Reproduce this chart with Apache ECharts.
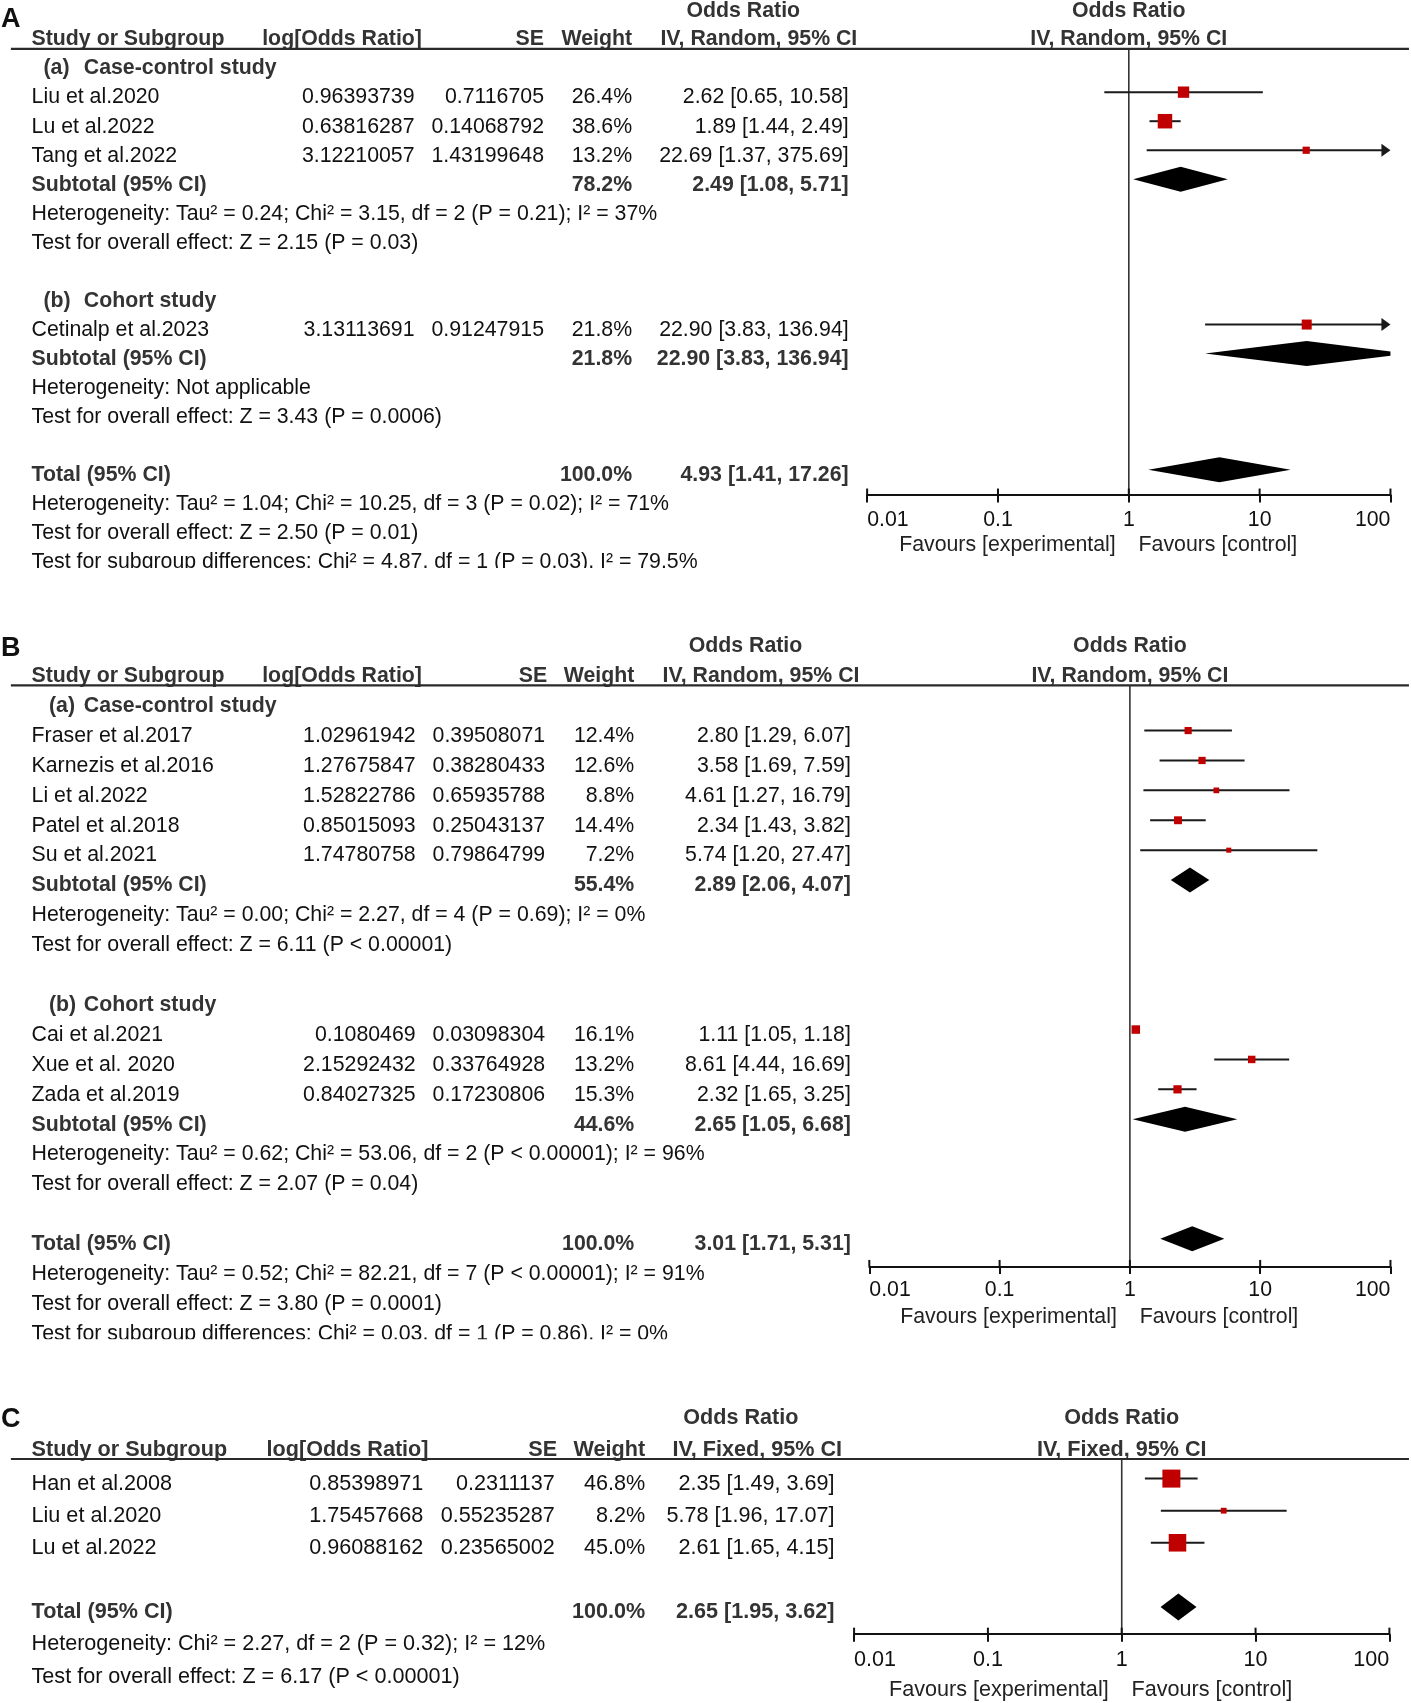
<!DOCTYPE html>
<html><head><meta charset="utf-8">
<script src="https://cdn.jsdelivr.net/npm/echarts@6/dist/echarts.min.js"></script>
<style>html,body{margin:0;padding:0;background:#fff}#c{width:1411px;height:1703px}</style>
</head><body><div id="c"></div>
<script>
// ================= DATA =================
// ---- Panel A ----
const A_names  = ['Liu et al.2020', 'Lu et al.2022', 'Tang et al.2022', 'Cetinalp et al.2023'];
const A_logOR  = [0.96393739, 0.63816287, 3.12210057, 3.13113691];
const A_se     = [0.7116705, 0.14068792, 1.43199648, 0.91247915];
const A_weight = [26.4, 38.6, 13.2, 21.8];
const A_or     = [2.62, 1.89, 22.69, 22.90];
const A_lo     = [0.65, 1.44, 1.37, 3.83];
const A_hi     = [10.58, 2.49, 375.69, 136.94];
const A_group  = [0, 0, 0, 1];
const A_groupLabels = ['(a)', '(b)'];
const A_groupTitles = ['Case-control study', 'Cohort study'];
const A_subWeight = [78.2, 21.8];
const A_subOR  = [2.49, 22.90];
const A_subLo  = [1.08, 3.83];
const A_subHi  = [5.71, 136.94];
const A_subNotes = [
  ['Heterogeneity: Tau² = 0.24; Chi² = 3.15, df = 2 (P = 0.21); I² = 37%', 'Test for overall effect: Z = 2.15 (P = 0.03)'],
  ['Heterogeneity: Not applicable', 'Test for overall effect: Z = 3.43 (P = 0.0006)']
];
const A_total = [100.0, 4.93, 1.41, 17.26];   // weight, OR, lower, upper
const A_totalNotes = [
  'Heterogeneity: Tau² = 1.04; Chi² = 10.25, df = 3 (P = 0.02); I² = 71%',
  'Test for overall effect: Z = 2.50 (P = 0.01)',
  'Test for subgroup differences: Chi² = 4.87, df = 1 (P = 0.03), I² = 79.5%'
];
const A_method = 'IV, Random, 95% CI';

// ---- Panel B ----
const B_names  = ['Fraser et al.2017', 'Karnezis et al.2016', 'Li et al.2022', 'Patel et al.2018', 'Su et al.2021',
                  'Cai et al.2021', 'Xue et al. 2020', 'Zada et al.2019'];
const B_logOR  = [1.02961942, 1.27675847, 1.52822786, 0.85015093, 1.74780758, 0.1080469, 2.15292432, 0.84027325];
const B_se     = [0.39508071, 0.38280433, 0.65935788, 0.25043137, 0.79864799, 0.03098304, 0.33764928, 0.17230806];
const B_weight = [12.4, 12.6, 8.8, 14.4, 7.2, 16.1, 13.2, 15.3];
const B_or     = [2.80, 3.58, 4.61, 2.34, 5.74, 1.11, 8.61, 2.32];
const B_lo     = [1.29, 1.69, 1.27, 1.43, 1.20, 1.05, 4.44, 1.65];
const B_hi     = [6.07, 7.59, 16.79, 3.82, 27.47, 1.18, 16.69, 3.25];
const B_group  = [0, 0, 0, 0, 0, 1, 1, 1];
const B_groupLabels = ['(a)', '(b)'];
const B_groupTitles = ['Case-control study', 'Cohort study'];
const B_subWeight = [55.4, 44.6];
const B_subOR  = [2.89, 2.65];
const B_subLo  = [2.06, 1.05];
const B_subHi  = [4.07, 6.68];
const B_subNotes = [
  ['Heterogeneity: Tau² = 0.00; Chi² = 2.27, df = 4 (P = 0.69); I² = 0%', 'Test for overall effect: Z = 6.11 (P < 0.00001)'],
  ['Heterogeneity: Tau² = 0.62; Chi² = 53.06, df = 2 (P < 0.00001); I² = 96%', 'Test for overall effect: Z = 2.07 (P = 0.04)']
];
const B_total = [100.0, 3.01, 1.71, 5.31];
const B_totalNotes = [
  'Heterogeneity: Tau² = 0.52; Chi² = 82.21, df = 7 (P < 0.00001); I² = 91%',
  'Test for overall effect: Z = 3.80 (P = 0.0001)',
  'Test for subgroup differences: Chi² = 0.03, df = 1 (P = 0.86), I² = 0%'
];
const B_method = 'IV, Random, 95% CI';

// ---- Panel C ----
const C_names  = ['Han et al.2008', 'Liu et al.2020', 'Lu et al.2022'];
const C_logOR  = [0.85398971, 1.75457668, 0.96088162];
const C_se     = [0.2311137, 0.55235287, 0.23565002];
const C_weight = [46.8, 8.2, 45.0];
const C_or     = [2.35, 5.78, 2.61];
const C_lo     = [1.49, 1.96, 1.65];
const C_hi     = [3.69, 17.07, 4.15];
const C_group  = [];
const C_groupLabels = [];
const C_groupTitles = [];
const C_subWeight = [], C_subOR = [], C_subLo = [], C_subHi = [], C_subNotes = [];
const C_total = [100.0, 2.65, 1.95, 3.62];
const C_totalNotes = [
  'Heterogeneity: Chi² = 2.27, df = 2 (P = 0.32); I² = 12%',
  'Test for overall effect: Z = 6.17 (P < 0.00001)'
];
const C_method = 'IV, Fixed, 95% CI';

// axis ticks
const TICKS = [0.01, 0.1, 1, 10, 100];
const X_MIN = 0.01, X_MAX = 100;

// ================= LAYOUT (not data) =================
const S = 1.088;
const FONT = '"Liberation Sans", Arial, Helvetica, sans-serif';
const TXT = '#111111', BTXT = '#333333';
const LAYOUT_A = {gx0:797, gx1:1278, top:45, axisY:455, y0:63, dy:26.7, off:-5, font:21.3, letterY:18, hdr1:10, hdr2:36,
  line0:10, line1:1295, name:29, lor:381, se:500, w:581, ci:780, gl:40, gt:77, hLor:241, hSe:500, hW:581, hOr:631, hIv:607,
  labY:478, favY:501, boxMax:14.5, dH:12.5, cutY:522};
const LAYOUT_B = {gx0:799, gx1:1278, top:630, axisY:1164, y0:649, dy:27.48, off:-5, font:21.3, letterY:596, hdr1:594, hdr2:621,
  line0:10, line1:1295, name:29, lor:382, se:501, w:583, ci:782, gl:45, gt:77, hLor:241, hSe:503, hW:583, hOr:633, hIv:609,
  labY:1186, favY:1211, boxMax:8.5, dH:12.5, cutY:1231};
const LAYOUT_C = {gx0:785, gx1:1277, top:1341, axisY:1502, y0:1364, dy:29.5, off:-5, font:21.6, letterY:1305, hdr1:1303, hdr2:1333,
  line0:10, line1:1295, name:29, lor:389, se:510, w:593, ci:767, gl:45, gt:77, hLor:245, hSe:512, hW:593, hOr:628, hIv:618,
  labY:1526, favY:1553, boxMax:18, dH:13.5, cutY:null};

const PANELS = [
  {letter:'A', L:LAYOUT_A, names:A_names, logOR:A_logOR, se:A_se, weight:A_weight, or:A_or, lo:A_lo, hi:A_hi, group:A_group,
   groupLabels:A_groupLabels, groupTitles:A_groupTitles, subWeight:A_subWeight, subOR:A_subOR, subLo:A_subLo, subHi:A_subHi,
   subNotes:A_subNotes, total:A_total, totalNotes:A_totalNotes, method:A_method},
  {letter:'B', L:LAYOUT_B, names:B_names, logOR:B_logOR, se:B_se, weight:B_weight, or:B_or, lo:B_lo, hi:B_hi, group:B_group,
   groupLabels:B_groupLabels, groupTitles:B_groupTitles, subWeight:B_subWeight, subOR:B_subOR, subLo:B_subLo, subHi:B_subHi,
   subNotes:B_subNotes, total:B_total, totalNotes:B_totalNotes, method:B_method},
  {letter:'C', L:LAYOUT_C, names:C_names, logOR:C_logOR, se:C_se, weight:C_weight, or:C_or, lo:C_lo, hi:C_hi, group:C_group,
   groupLabels:C_groupLabels, groupTitles:C_groupTitles, subWeight:C_subWeight, subOR:C_subOR, subLo:C_subLo, subHi:C_subHi,
   subNotes:C_subNotes, total:C_total, totalNotes:C_totalNotes, method:C_method}
];

function buildRows(P) {
  const rows = [];
  if (P.groupLabels.length) {
    P.groupLabels.forEach((lab, g) => {
      rows.push({kind:'group', label:lab, title:P.groupTitles[g]});
      P.group.forEach((gg, k) => { if (gg === g) rows.push({kind:'study', k}); });
      rows.push({kind:'sub', g});
      P.subNotes[g].forEach(s => rows.push({kind:'note', s}));
      rows.push({kind:'blank'});
    });
  } else {
    P.names.forEach((n, k) => rows.push({kind:'study', k}));
    rows.push({kind:'blank'});
  }
  rows.push({kind:'total'});
  P.totalNotes.forEach(s => rows.push({kind:'note', s}));
  return rows;
}

const fmtCI = (o, l, h) => o.toFixed(2) + ' [' + l.toFixed(2) + ', ' + h.toFixed(2) + ']';
const fmtW = w => w.toFixed(1) + '%';

function txt(x, y, s, o) {
  o = o || {};
  const align = o.align || 'left';
  const size = o.size;
  return {type:'text', x:x, y:y, z:o.z || 10, silent:true,
    style:{text:s, font:(o.bold ? 'bold ' : '') + size + 'px ' + FONT, fill:o.color || (o.bold ? BTXT : TXT),
      align:align, textAlign:align, verticalAlign:'middle', textVerticalAlign:'middle'}};
}

function clipX(pts, bound, keepLess) {
  const out = [];
  for (let i = 0; i < pts.length; i++) {
    const a = pts[i], b = pts[(i + 1) % pts.length];
    const ina = keepLess ? a[0] <= bound : a[0] >= bound;
    const inb = keepLess ? b[0] <= bound : b[0] >= bound;
    if (ina) out.push(a);
    if (ina !== inb) { const t = (bound - a[0]) / (b[0] - a[0]); out.push([bound, a[1] + t * (b[1] - a[1])]); }
  }
  return out;
}

const grids = [], xAxes = [], yAxes = [], series = [], graphics = [];

PANELS.forEach((P, pi) => {
  const L = P.L;
  const rows = buildRows(P);
  const fs = L.font;
  const rowY = i => (L.y0 + L.dy * i) * S;
  const markY0 = (L.y0 + L.off) * S, markDy = L.dy * S;
  const top = L.top * S, bottom = L.axisY * S, left = L.gx0 * S, right = L.gx1 * S;
  const cx = (left + right) / 2;

  grids.push({left:left, top:top, width:right - left, height:bottom - top, containLabel:false, outerBoundsMode:'none'});
  xAxes.push({gridIndex:pi, type:'log', logBase:10, min:X_MIN, max:X_MAX, splitNumber:4, position:'bottom',
    axisLine:{show:true, onZero:false, lineStyle:{color:'#111', width:2}},
    axisTick:{show:true, length:7.5, lineStyle:{color:'#111', width:2}},
    axisLabel:{show:true, margin:(L.labY - L.axisY) * S - fs / 2, color:TXT, fontSize:fs, fontFamily:FONT,
      alignMinLabel:'left', alignMaxLabel:'right', formatter:v => String(+Number(v).toPrecision(6))},
    splitLine:{show:false}, minorTick:{show:false}, minorSplitLine:{show:false}});
  yAxes.push({gridIndex:pi, type:'value', inverse:true, show:false,
    min:(top - markY0) / markDy, max:(bottom - markY0) / markDy, splitLine:{show:false}});

  // ----- texts -----
  graphics.push(txt(1, L.letterY * S, P.letter, {bold:true, size:27, color:'#111'}));
  graphics.push(txt(L.hOr * S, L.hdr1 * S, 'Odds Ratio', {bold:true, size:fs}));
  graphics.push(txt(cx, L.hdr1 * S, 'Odds Ratio', {bold:true, size:fs, align:'center'}));
  graphics.push(txt(L.name * S, L.hdr2 * S, 'Study or Subgroup', {bold:true, size:fs}));
  graphics.push(txt(L.hLor * S, L.hdr2 * S, 'log[Odds Ratio]', {bold:true, size:fs}));
  graphics.push(txt(L.hSe * S, L.hdr2 * S, 'SE', {bold:true, size:fs, align:'right'}));
  graphics.push(txt(L.hW * S, L.hdr2 * S, 'Weight', {bold:true, size:fs, align:'right'}));
  graphics.push(txt(L.hIv * S, L.hdr2 * S, P.method, {bold:true, size:fs}));
  graphics.push(txt(cx, L.hdr2 * S, P.method, {bold:true, size:fs, align:'center'}));
  graphics.push({type:'line', z:12, silent:true, shape:{x1:L.line0 * S, y1:top, x2:L.line1 * S, y2:top},
    style:{stroke:'#2a2a2a', lineWidth:2.2}});
  graphics.push(txt(cx - 12 * S, L.favY * S, 'Favours [experimental]', {size:fs, align:'right', color:'#222'}));
  graphics.push(txt(cx + 9 * S, L.favY * S, 'Favours [control]', {size:fs, align:'left', color:'#222'}));

  const studyData = [], diamondData = [];
  rows.forEach((r, i) => {
    const y = rowY(i);
    if (r.kind === 'group') {
      graphics.push(txt(L.gl * S, y, r.label, {bold:true, size:fs}));
      graphics.push(txt(L.gt * S, y, r.title, {bold:true, size:fs}));
    } else if (r.kind === 'study') {
      const k = r.k;
      graphics.push(txt(L.name * S, y, P.names[k], {size:fs}));
      graphics.push(txt(L.lor * S, y, String(P.logOR[k]), {size:fs, align:'right'}));
      graphics.push(txt(L.se * S, y, String(P.se[k]), {size:fs, align:'right'}));
      graphics.push(txt(L.w * S, y, fmtW(P.weight[k]), {size:fs, align:'right'}));
      graphics.push(txt(L.ci * S, y, fmtCI(P.or[k], P.lo[k], P.hi[k]), {size:fs, align:'right'}));
      studyData.push([P.or[k], i, P.lo[k], P.hi[k], P.weight[k]]);
    } else if (r.kind === 'sub') {
      const g = r.g;
      graphics.push(txt(L.name * S, y, 'Subtotal (95% CI)', {bold:true, size:fs}));
      graphics.push(txt(L.w * S, y, fmtW(P.subWeight[g]), {bold:true, size:fs, align:'right'}));
      graphics.push(txt(L.ci * S, y, fmtCI(P.subOR[g], P.subLo[g], P.subHi[g]), {bold:true, size:fs, align:'right'}));
      diamondData.push([P.subOR[g], i, P.subLo[g], P.subHi[g]]);
    } else if (r.kind === 'total') {
      graphics.push(txt(L.name * S, y, 'Total (95% CI)', {bold:true, size:fs}));
      graphics.push(txt(L.w * S, y, fmtW(P.total[0]), {bold:true, size:fs, align:'right'}));
      graphics.push(txt(L.ci * S, y, fmtCI(P.total[1], P.total[2], P.total[3]), {bold:true, size:fs, align:'right'}));
      diamondData.push([P.total[1], i, P.total[2], P.total[3]]);
    } else if (r.kind === 'note') {
      graphics.push(txt(L.name * S, y, r.s, {size:fs}));
    }
  });
  if (L.cutY) {
    graphics.push({type:'rect', z:50, silent:true, shape:{x:0, y:L.cutY * S, width:860, height:36}, style:{fill:'#fff'}});
  }

  const wmax = Math.max.apply(null, P.weight);

  // reference line at OR = 1
  series.push({type:'custom', coordinateSystem:'cartesian2d', xAxisIndex:pi, yAxisIndex:pi, silent:true, animation:false, z:1,
    encode:{x:0, y:1}, data:[[1, 0]],
    renderItem:(params, api) => {
      const cs = params.coordSys;
      const x = api.coord([api.value(0), api.value(1)])[0];
      return {type:'line', shape:{x1:x, y1:cs.y, x2:x, y2:cs.y + cs.height}, style:{stroke:'#333', lineWidth:1.6}};
    }});
  // inner halves of axis ticks
  series.push({type:'custom', coordinateSystem:'cartesian2d', xAxisIndex:pi, yAxisIndex:pi, silent:true, animation:false, z:2,
    encode:{x:0, y:1}, data:TICKS.map(t => [t, 0]),
    renderItem:(params, api) => {
      const cs = params.coordSys;
      const x = api.coord([api.value(0), api.value(1)])[0];
      const yb = cs.y + cs.height;
      return {type:'line', shape:{x1:x, y1:yb - 6.5, x2:x, y2:yb}, style:{stroke:'#111', lineWidth:2}};
    }});
  // study CIs and boxes
  series.push({type:'custom', coordinateSystem:'cartesian2d', xAxisIndex:pi, yAxisIndex:pi, silent:true, animation:false, z:3,
    encode:{x:0, y:1}, data:studyData,
    renderItem:(params, api) => {
      const or = api.value(0), row = api.value(1), lo = api.value(2), hi = api.value(3), w = api.value(4);
      const pc = api.coord([or, row]); const y = pc[1];
      const xa = api.coord([Math.max(lo, X_MIN), row])[0];
      const xb = api.coord([Math.min(hi, X_MAX), row])[0];
      const aL = 9, aH = 6.5;
      const rA = hi > X_MAX, lA = lo < X_MIN;
      const ch = [];
      ch.push({type:'line', shape:{x1:lA ? xa + aL - 1 : xa, y1:y, x2:rA ? xb - aL + 1 : xb, y2:y}, style:{stroke:'#1a1a1a', lineWidth:2}});
      if (rA) ch.push({type:'polygon', shape:{points:[[xb, y], [xb - aL, y - aH], [xb - aL, y + aH]]}, style:{fill:'#1a1a1a'}});
      if (lA) ch.push({type:'polygon', shape:{points:[[xa, y], [xa + aL, y - aH], [xa + aL, y + aH]]}, style:{fill:'#1a1a1a'}});
      const s = L.boxMax * Math.pow(w / wmax, 0.65);
      ch.push({type:'rect', shape:{x:pc[0] - s / 2, y:y - s / 2, width:s, height:s}, style:{fill:'#c00000'}});
      return {type:'group', children:ch};
    }});
  // diamonds
  series.push({type:'custom', coordinateSystem:'cartesian2d', xAxisIndex:pi, yAxisIndex:pi, silent:true, animation:false, z:3,
    encode:{x:0, y:1}, data:diamondData,
    renderItem:(params, api) => {
      const est = api.value(0), row = api.value(1), lo = api.value(2), hi = api.value(3);
      const c = api.coord([est, row]); const y = c[1];
      const xl = api.coord([lo, row])[0], xr = api.coord([hi, row])[0];
      const cs = params.coordSys; const h = L.dH;
      let pts = [[xl, y], [c[0], y - h], [xr, y], [c[0], y + h]];
      pts = clipX(pts, cs.x, false);
      pts = clipX(pts, cs.x + cs.width, true);
      return {type:'polygon', shape:{points:pts}, style:{fill:'#000'}};
    }});
});

const chart = echarts.init(document.getElementById('c'), null, {renderer:'canvas'});
chart.setOption({
  animation:false,
  backgroundColor:'#ffffff',
  grid:grids, xAxis:xAxes, yAxis:yAxes, series:series,
  graphic:{elements:graphics}
});
</script>
</body></html>
